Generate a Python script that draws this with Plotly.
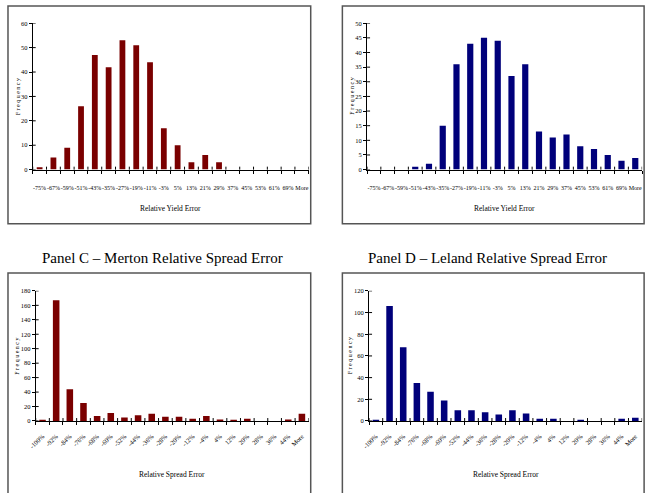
import plotly.graph_objects as go

W, H = 654, 493

yield_cats = ["-75%", "-67%", "-59%", "-51%", "-43%", "-35%", "-27%", "-19%", "-11%", "-3%",
              "5%", "13%", "21%", "29%", "37%", "45%", "53%", "61%", "69%", "More"]
merton_yield = [1, 5, 9, 26, 47, 42, 53, 51, 44, 17, 10, 3, 6, 3, 0, 0, 0, 0, 0, 0]
leland_yield = [0, 0, 0, 1, 2, 15, 36, 43, 45, 44, 32, 36, 13, 11, 12, 8, 7, 5, 3, 4]

spread_cats = ["-100%", "-92%", "-84%", "-76%", "-68%", "-60%", "-52%", "-44%", "-36%", "-28%",
               "-20%", "-12%", "-4%", "4%", "12%", "20%", "28%", "36%", "44%", "More"]
merton_spread = [1, 167, 44, 25, 7, 11, 5, 8, 10, 6, 6, 3, 7, 2, 1, 3, 0, 0, 2, 10]
leland_spread = [1, 106, 68, 35, 27, 19, 10, 10, 8, 6, 10, 7, 2, 2, 0, 1, 0, 0, 2, 3]

FONT = "Liberation Serif"
RED = "#7a0000"
BLUE = "#00007a"

def px(x):
    return x / W

def py(y):
    return 1 - y / H

# panel specs: (cats, vals, color, x-pixel domain, y-pixel domain (top,bottom), ymax, dtick, xtitle, angle, barwidth, ytitle offset)
panels = [
    (yield_cats, merton_yield, RED, (26, 305), (19.5, 168), 60, 10, "Relative Yield Error", 0, 0.42, 14),
    (yield_cats, leland_yield, BLUE, (364, 642), (19.5, 168), 50, 5, "Relative Yield Error", 0, 0.45, 15),
    (spread_cats, merton_spread, RED, (29, 305), (291, 423), 180, 20, "Relative Spread Error", -45, 0.48, 19),
    (spread_cats, leland_spread, BLUE, (366, 642), (291, 423), 120, 20, "Relative Spread Error", -45, 0.48, 19),
]

fig = go.Figure()
shapes = []
annotations = []

for k, (cats, vals, color, xd, yd, ymax, dtick, xtitle, angle, bw, yoff) in enumerate(panels, start=1):
    sfx = "" if k == 1 else str(k)
    fig.add_trace(go.Bar(x=cats, y=vals, marker=dict(color=color, line=dict(width=0)),
                         width=bw, xaxis="x" + sfx, yaxis="y" + sfx, showlegend=False))
    fig.layout["xaxis" + sfx] = dict(
        domain=[px(xd[0]), px(xd[1])], anchor="y" + sfx, type="category",
        categoryorder="array", categoryarray=cats, range=[-0.5, len(cats) - 0.5],
        showline=True, linecolor="black", linewidth=1, showgrid=False, zeroline=False,
        ticks="outside", ticklen=3, tickcolor="black", tickson="boundaries",
        tickangle=angle, ticklabelstandoff=12 if angle == 0 else 8,
        tickfont=dict(family=FONT, size=6 if angle == 0 else 6.5, color="black"))
    fig.layout["yaxis" + sfx] = dict(
        domain=[py(yd[1]), py(yd[0])], anchor="x" + sfx, range=[0, ymax], dtick=dtick,
        showline=True, linecolor="black", linewidth=1, showgrid=False, zeroline=False,
        ticks="outside", ticklen=3, tickcolor="black",
        tickfont=dict(family=FONT, size=6.5, color="black"))
    # inward halves of the crossing tick marks
    ph = yd[1] - yd[0]
    pw = xd[1] - xd[0]
    for i in range(len(cats) + 1):
        shapes.append(dict(type="line", xref="x" + sfx, yref="y" + sfx + " domain",
                           x0=i - 0.5, x1=i - 0.5, y0=0, y1=3 / ph,
                           line=dict(color="black", width=1)))
    for v in range(0, ymax + 1, dtick):
        shapes.append(dict(type="line", xref="x" + sfx + " domain", yref="y" + sfx,
                           x0=0, x1=3 / pw, y0=v, y1=v, line=dict(color="black", width=1)))
    # axis titles
    xt_y = 207 if yd[1] < 200 else 477
    annotations.append(dict(text=xtitle, xref="paper", yref="paper",
                            x=px((xd[0] + xd[1]) / 2), y=py(xt_y), showarrow=False,
                            xanchor="center", yanchor="middle",
                            font=dict(family=FONT, size=7.5, color="black")))
    annotations.append(dict(text="F r e q u e n c y", xref="paper", yref="paper",
                            x=px(xd[0] - yoff), y=py((yd[0] + yd[1]) / 2), showarrow=False,
                            textangle=-90, xanchor="center", yanchor="middle",
                            font=dict(family=FONT, size=6, color="black")))

# panel boxes
for (x0, y0, x1, y1) in [(1, 2, 307, 223), (339, 2, 644, 223), (1, 273, 307, 500), (339, 273, 644, 500)]:
    shapes.append(dict(type="rect", xref="paper", yref="paper",
                       x0=px(x0), x1=px(x1), y0=py(y1), y1=py(y0),
                       line=dict(color="#555555", width=1.5), fillcolor="rgba(0,0,0,0)"))

annotations.append(dict(text="Panel C \u2013 Merton Relative Spread Error", xref="paper", yref="paper",
                        x=px(157), y=py(258), showarrow=False, xanchor="center", yanchor="middle",
                        font=dict(family=FONT, size=15, color="black")))
annotations.append(dict(text="Panel D \u2013 Leland Relative Spread Error", xref="paper", yref="paper",
                        x=px(486), y=py(258), showarrow=False, xanchor="center", yanchor="middle",
                        font=dict(family=FONT, size=15, color="black")))

fig.update_layout(width=W, height=H, margin=dict(l=0, r=0, t=0, b=0),
                  paper_bgcolor="white", plot_bgcolor="white",
                  shapes=shapes, annotations=annotations, showlegend=False,
                  font=dict(family=FONT, color="black"))

fig.write_html("out.html")
